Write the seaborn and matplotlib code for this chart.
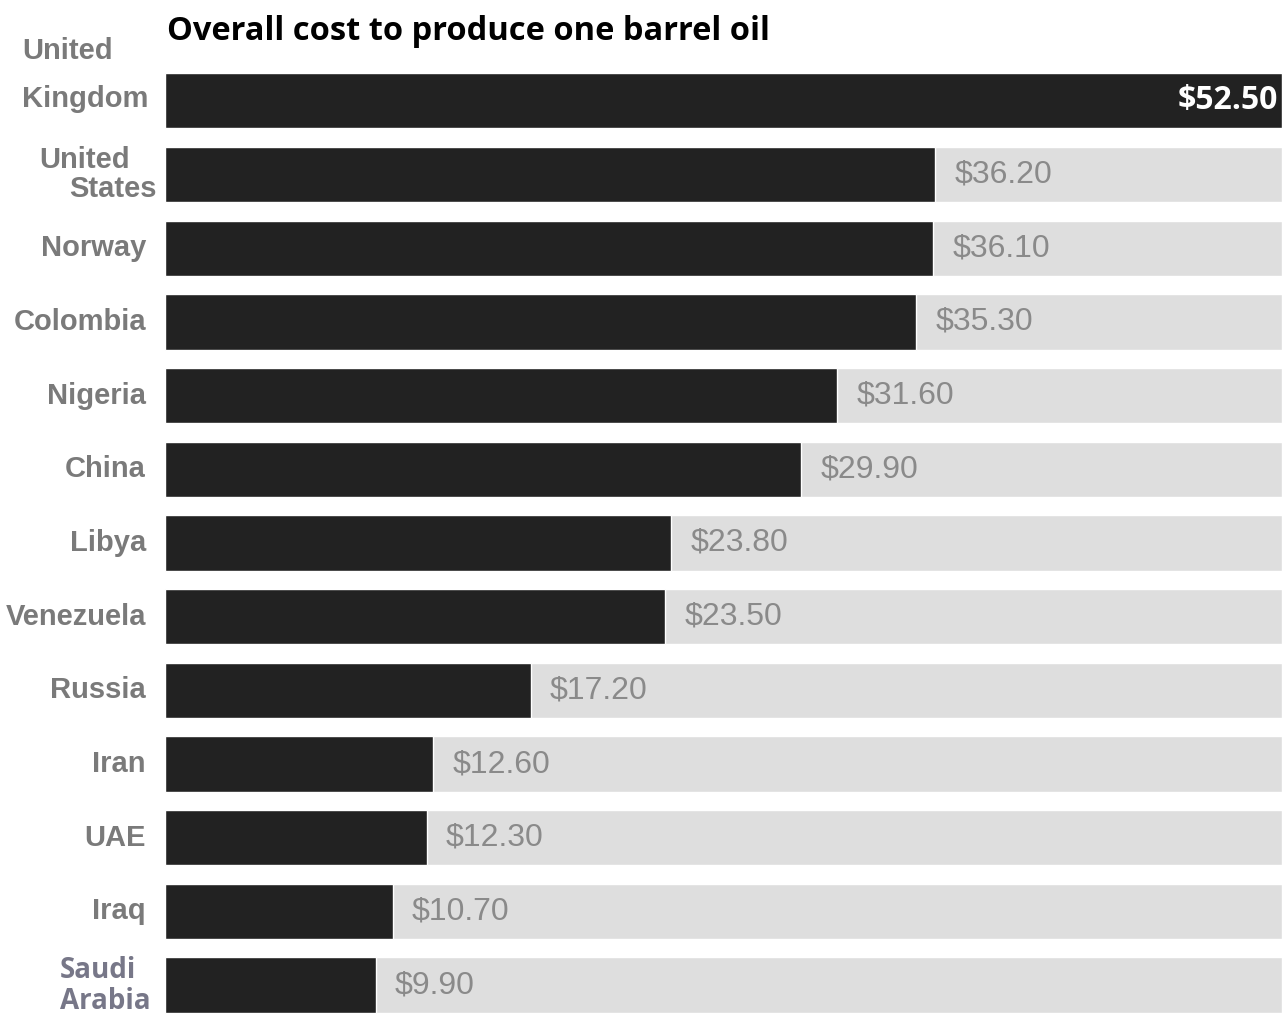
import matplotlib
matplotlib.use("Agg")
import matplotlib.pyplot as plt
import matplotlib.transforms as mtransforms
import seaborn as sns
import pandas as pd

countries = ["United Kingdom", "United States", "Norway", "Colombia", "Nigeria",
             "China", "Libya", "Venezuela", "Russia", "Iran", "UAE", "Iraq",
             "Saudi Arabia"]
costs = [52.50, 36.20, 36.10, 35.30, 31.60, 29.90, 23.80, 23.50, 17.20,
         12.60, 12.30, 10.70, 9.90]
# how each country name is broken / aligned on the left
name_lines = ["United\nKingdom", "United\nStates", "Norway", "Colombia", "Nigeria",
              "China", "Libya", "Venezuela", "Russia", "Iran", "UAE", "Iraq",
              "Saudi\nArabia"]

df = pd.DataFrame({"country": countries, "cost": costs})
df["full"] = df["cost"].max()

sns.set_style("white")
fig = plt.figure(figsize=(12.82, 10.19), dpi=100)
ax = fig.add_axes([165 / 1282, 0, 1117 / 1282, 955 / 1019])

sns.barplot(data=df, x="full", y="country", color="#dedede", width=0.75,
            saturation=1, ax=ax, orient="h")
sns.barplot(data=df, x="cost", y="country", color="#222222", width=0.75,
            saturation=1, ax=ax, orient="h")

ax.set_xlim(0, df["cost"].max())
ax.set_ylim(12.46, -0.5)
ax.set_xlabel("")
ax.set_ylabel("")
ax.set_xticks([])
ax.set_yticks([])
sns.despine(ax=ax, left=True, bottom=True)

# value labels
for i, v in enumerate(costs):
    if i == 0:
        ax.text(v - 0.2, i, f"${v:.2f}", ha="right", va="center", color="white",
                fontsize=23, fontweight="bold", family="Open Sans")
    else:
        ax.text(v + 0.9, i, f"${v:.2f}", ha="left", va="center", color="#8a8a8a",
                fontsize=23, family="Liberation Sans")

# country labels, x in figure pixels, y in data
trans = mtransforms.blended_transform_factory(fig.transFigure, ax.transData)
lab = dict(color="#7a7a7a", fontsize=21, fontweight="bold",
           family="Liberation Sans", va="center")
ax.text(22 / 1282, -0.67, "United", ha="left", transform=trans, **lab)
ax.text(22 / 1282, -0.02, "Kingdom", ha="left", transform=trans, **lab)
ax.text(130 / 1282, 0.8, "United", ha="right", transform=trans, **lab)
ax.text(157 / 1282, 1.2, "States", ha="right", transform=trans, **lab)
for i in range(2, 12):
    ax.text(146 / 1282, i, name_lines[i], ha="right", transform=trans, **lab)
sa = dict(color="#777788", fontsize=20, fontweight="bold", family="Open Sans",
          va="center", ha="left", transform=trans)
ax.text(60 / 1282, 11.8, "Saudi", **sa)
ax.text(60 / 1282, 12.22, "Arabia", **sa)

fig.text(167 / 1282, 1 - 32 / 1019, "Overall cost to produce one barrel oil",
         ha="left", va="center", fontsize=23.5, fontweight="bold",
         family="Open Sans", color="black")

fig.savefig("out.png", dpi=100)
